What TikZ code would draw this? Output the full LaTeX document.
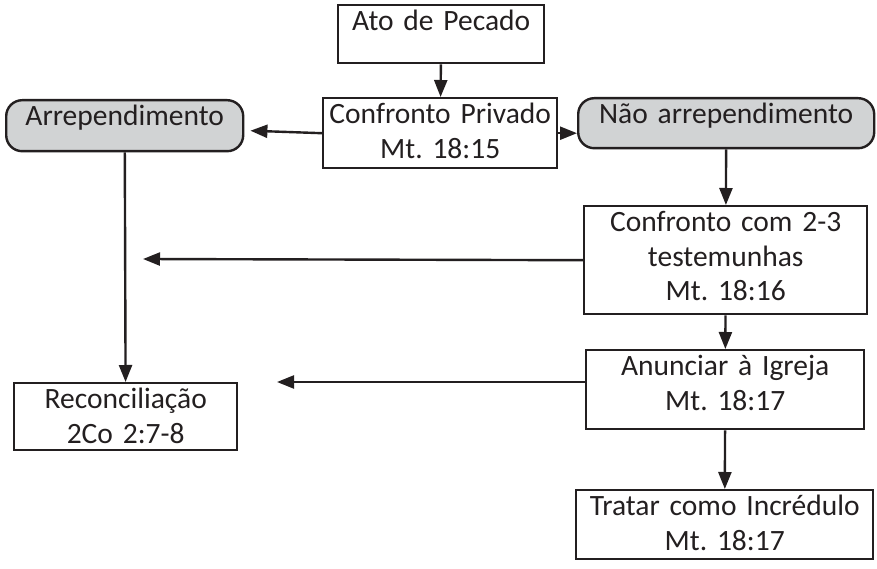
\documentclass[tikz,border=0pt]{standalone}
\usepackage{fontspec}
\setmainfont{Carlito}
\frenchspacing
\usetikzlibrary{arrows.meta}
\definecolor{cinza}{HTML}{D1D3D4}
\definecolor{tinta}{HTML}{231F20}
\tikzset{
  every node/.style={text=tinta,inner xsep=0pt,inner ysep=5.5pt,anchor=north west,
    align=center,text height=20pt,font=\fontsize{29.5}{34.5}\selectfont},
  caixa/.style={draw=tinta,line width=2.4pt},
  estado/.style={caixa,fill=cinza,rounded corners=16pt},
  seta/.style={draw=tinta,line width=2.4pt,-{Triangle[length=17pt,width=13pt]}}
}

\begin{document}
\begin{tikzpicture}[x=1pt,y=-1pt]
      \useasboundingbox (0,0) rectangle (877,569);

      \node [caixa] (ato) at (337,4) [text width=206pt,text depth=27pt] {Ato de Pecado};
      \node [caixa] (privado) at (322,97) [text width=234pt,text depth=39pt] {Confronto Privado\\Mt. 18:15};
      \node [estado] (arrep) at (5,99) [text width=237pt,text depth=20pt] {Arrependimento};
      \node [estado] (nao) at (577,97) [text width=296pt,text depth=19pt] {Não arrependimento};
      \node [caixa] (testemunhas) at (583,205) [text width=283pt,text depth=77pt] {Confronto com 2-3\\testemunhas\\Mt. 18:16};
      \node [caixa] (igreja) at (585,349) [text width=278pt,text depth=48pt] {Anunciar à Igreja\\Mt. 18:17};
      \node [caixa] (incredulo) at (575,489) [text width=297pt,text depth=38pt] {Tratar como Incrédulo\\Mt. 18:17};
      \node [caixa] (reconc) at (13,382) [text width=223pt,text depth=36pt] {Reconciliação\\2Co 2:7-8};

      \coordinate (fim1) at (143,259);
      \coordinate (fim2) at (277,382);

      \foreach \from/\to in {ato/privado,nao/testemunhas,testemunhas/igreja,igreja/incredulo,arrep/reconc}
        \draw [seta] (\from) -- (\to);
      \draw [seta] (privado.west) -- ([shift={(6,5)}]arrep.east);
      \draw [seta] (privado.east) -- (privado.east -| nao.west);
      \draw [seta] (testemunhas.west) -- (fim1);
      \draw [seta] (igreja.west |- fim2) -- (fim2);
    \end{tikzpicture}
\end{document}
